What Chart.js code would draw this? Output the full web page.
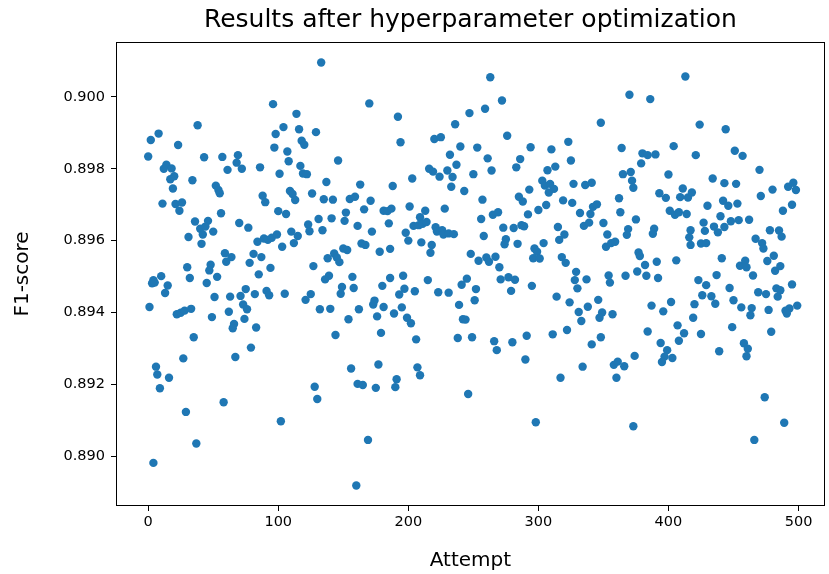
<!DOCTYPE html>
<html>
<head>
<meta charset="utf-8">
<title>Results after hyperparameter optimization</title>
<script src="https://cdn.jsdelivr.net/npm/chart.js@4/dist/chart.umd.min.js"></script>
<style>
  html, body { margin: 0; padding: 0; background: #fff; }
  #wrap { width: 829px; height: 574px; position: relative; }
</style>
</head>
<body>
<div id="wrap"><canvas id="grafica"></canvas></div>
<script>
// tick positions shown on each axis
const xTicks = [0, 100, 200, 300, 400, 500];
const yTicks = [0.890, 0.892, 0.894, 0.896, 0.898, 0.900];

// attempt number of every trial
const attempts = [
  38, 8, 2, 23, 0, 43, 57, 69, 68, 72, 61, 14, 12, 18, 20, 17, 34, 19, 52, 54,
  55, 11, 21, 26, 24, 56, 70, 77, 36, 46, 40, 44, 42, 50, 31, 41, 59, 64, 60, 48,
  47, 53, 30, 32, 10, 4, 78, 3, 5, 15, 45, 13, 1, 22, 25, 28, 33, 51, 63, 71,
  75, 73, 76, 62, 49, 74, 66, 65, 35, 79, 67, 27, 6, 7, 16, 9, 58, 29, 37, 4,
  133, 96, 114, 104, 98, 116, 129, 118, 120, 97, 107, 108, 146, 86, 101, 117, 119, 122, 137, 163,
  88, 90, 109, 111, 113, 126, 135, 142, 155, 159, 166, 100, 106, 123, 124, 131, 134, 141, 152, 151,
  161, 84, 89, 92, 95, 99, 110, 115, 112, 103, 164, 81, 87, 94, 85, 127, 138, 143, 145, 147,
  150, 153, 139, 136, 157, 82, 91, 93, 105, 121, 125, 149, 148, 158, 132, 140, 162, 154, 83, 144,
  156, 161, 165, 128, 130, 102, 160,
  170, 192, 194, 220, 225, 247, 236, 240, 253, 232, 237, 216, 219, 224, 230, 234, 233, 243, 250, 203,
  188, 171, 181, 184, 187, 201, 213, 228, 209, 204, 208, 211, 214, 221, 222, 226, 227, 231, 235, 185,
  172, 198, 200, 210, 218, 217, 167, 178, 186, 248, 254, 186, 196, 215, 245, 180, 197, 193, 205, 223,
  231, 241, 252, 251, 239, 174, 173, 181, 195, 189, 176, 199, 202, 179, 206, 242, 244, 238, 249, 177,
  207, 209, 191, 190, 175, 246, 169,
  263, 272, 259, 276, 294, 310, 323, 325, 261, 286, 283, 264, 307, 313, 327, 336, 341, 303, 305, 309,
  312, 308, 293, 285, 288, 257, 319, 326, 306, 300, 292, 265, 269, 256, 332, 340, 342, 335, 339, 315,
  320, 316, 273, 281, 287, 289, 258, 275, 274, 284, 304, 297, 299, 296, 301, 318, 321, 260, 262, 267,
  270, 271, 277, 282, 328, 337, 329, 279, 295, 330, 314, 324, 338, 331, 333, 266, 268, 280, 291, 311,
  322, 341, 290, 334, 317, 298,
  413, 370, 386, 348, 424, 364, 380, 384, 390, 379, 404, 421, 365, 371, 372, 373, 400, 393, 398, 411,
  409, 415, 418, 430, 362, 345, 363, 375, 401, 405, 408, 414, 350, 353, 352, 356, 359, 369, 368, 389,
  388, 417, 416, 417, 427, 428, 425, 429, 377, 378, 382, 391, 406, 376, 383, 354, 367, 392, 423, 355,
  429, 346, 349, 347, 357, 387, 402, 396, 420, 426, 419, 407, 412, 408, 425, 384, 348, 394, 399, 397,
  395, 403, 374, 358, 361, 366, 360, 373,
  444, 451, 457, 470, 434, 443, 452, 480, 492, 496, 498, 471, 442, 446, 453, 495, 488, 440, 435, 438,
  443, 448, 454, 462, 478, 485, 487, 467, 472, 473, 441, 455, 459, 460, 476, 481, 482, 486, 465, 437,
  433, 436, 447, 450, 456, 464, 463, 469, 475, 483, 486, 484, 495, 477, 490, 493, 491, 499, 449, 479,
  439, 458, 461, 460, 474, 489, 466
];

// F1-score reached by each trial (same order as attempts)
const f1Scores = [
  0.89921, 0.89898, 0.89880, 0.89866, 0.89834, 0.89832, 0.89833, 0.89838, 0.89817, 0.89800,
  0.89797, 0.89811, 0.89800, 0.89801, 0.89779, 0.89771, 0.89768, 0.89745, 0.89753, 0.89741,
  0.89732, 0.89703, 0.89702, 0.89706, 0.89683, 0.89676, 0.89649, 0.89636, 0.89653, 0.89655,
  0.89633, 0.89639, 0.89617, 0.89625, 0.89610, 0.89591, 0.89565, 0.89554, 0.89541, 0.89533,
  0.89517, 0.89499, 0.89526, 0.89496, 0.89501, 0.89490, 0.89538, 0.89481, 0.89483, 0.89475,
  0.89482, 0.89454, 0.89415, 0.89395, 0.89399, 0.89405, 0.89410, 0.89443, 0.89444, 0.89446,
  0.89465, 0.89422, 0.89409, 0.89402, 0.89387, 0.89382, 0.89368, 0.89356, 0.89331, 0.89302,
  0.89276, 0.89272, 0.89249, 0.89227, 0.89218, 0.89189, 0.89150, 0.89123, 0.89035, 0.88981,
  0.90096, 0.89980, 0.89953, 0.89916, 0.89897, 0.89910, 0.89902, 0.89878, 0.89867, 0.89859,
  0.89848, 0.89821, 0.89823, 0.89804, 0.89786, 0.89808, 0.89787, 0.89785, 0.89763, 0.89756,
  0.89725, 0.89707, 0.89738, 0.89730, 0.89713, 0.89731, 0.89715, 0.89714, 0.89716, 0.89722,
  0.89687, 0.89682, 0.89674, 0.89645, 0.89626, 0.89660, 0.89629, 0.89662, 0.89678, 0.89655,
  0.89641, 0.89597, 0.89606, 0.89602, 0.89608, 0.89617, 0.89625, 0.89613, 0.89593, 0.89583,
  0.89592, 0.89563, 0.89554, 0.89524, 0.89506, 0.89529, 0.89551, 0.89564, 0.89553, 0.89540,
  0.89578, 0.89574, 0.89502, 0.89492, 0.89499, 0.89451, 0.89460, 0.89448, 0.89452, 0.89435,
  0.89451, 0.89471, 0.89452, 0.89468, 0.89409, 0.89410, 0.89409, 0.89381, 0.89358, 0.89337,
  0.89244, 0.89201, 0.89198, 0.89193, 0.89159, 0.89097, 0.88918,
  0.89982, 0.89945, 0.89874, 0.89883, 0.89888, 0.89955, 0.89924, 0.89862, 0.89859, 0.89839,
  0.89811, 0.89800, 0.89792, 0.89778, 0.89795, 0.89777, 0.89750, 0.89738, 0.89785, 0.89773,
  0.89752, 0.89711, 0.89683, 0.89682, 0.89689, 0.89695, 0.89683, 0.89689, 0.89665, 0.89641,
  0.89643, 0.89647, 0.89652, 0.89637, 0.89625, 0.89629, 0.89617, 0.89620, 0.89618, 0.89648,
  0.89625, 0.89622, 0.89600, 0.89595, 0.89588, 0.89566, 0.89588, 0.89569, 0.89577, 0.89563,
  0.89544, 0.89496, 0.89502, 0.89490, 0.89494, 0.89474, 0.89466, 0.89450, 0.89459, 0.89456,
  0.89455, 0.89477, 0.89465, 0.89434, 0.89421, 0.89433, 0.89422, 0.89415, 0.89414, 0.89397,
  0.89389, 0.89385, 0.89370, 0.89343, 0.89325, 0.89381, 0.89380, 0.89329, 0.89331, 0.89255,
  0.89247, 0.89225, 0.89214, 0.89192, 0.89190, 0.89173, 0.89045,
  0.90055, 0.89990, 0.89967, 0.89892, 0.89860, 0.89854, 0.89875, 0.89823, 0.89829, 0.89827,
  0.89804, 0.89795, 0.89796, 0.89806, 0.89758, 0.89755, 0.89761, 0.89767, 0.89753, 0.89758,
  0.89744, 0.89734, 0.89742, 0.89722, 0.89709, 0.89714, 0.89712, 0.89705, 0.89699, 0.89685,
  0.89673, 0.89672, 0.89679, 0.89660, 0.89677, 0.89674, 0.89694, 0.89641, 0.89650, 0.89638,
  0.89617, 0.89602, 0.89636, 0.89635, 0.89643, 0.89640, 0.89613, 0.89604, 0.89590, 0.89591,
  0.89593, 0.89578, 0.89569, 0.89551, 0.89550, 0.89554, 0.89538, 0.89553, 0.89541, 0.89555,
  0.89526, 0.89492, 0.89498, 0.89491, 0.89490, 0.89492, 0.89513, 0.89460, 0.89474, 0.89467,
  0.89444, 0.89428, 0.89416, 0.89401, 0.89376, 0.89320, 0.89295, 0.89317, 0.89335, 0.89339,
  0.89351, 0.89311, 0.89269, 0.89249, 0.89218, 0.89094,
  0.90057, 0.90006, 0.89994, 0.89928, 0.89923, 0.89858, 0.89843, 0.89838, 0.89840, 0.89815,
  0.89863, 0.89838, 0.89785, 0.89791, 0.89767, 0.89747, 0.89784, 0.89732, 0.89719, 0.89745,
  0.89721, 0.89720, 0.89734, 0.89697, 0.89718, 0.89701, 0.89679, 0.89659, 0.89683, 0.89672,
  0.89679, 0.89674, 0.89649, 0.89617, 0.89583, 0.89593, 0.89597, 0.89632, 0.89616, 0.89633,
  0.89619, 0.89629, 0.89609, 0.89588, 0.89650, 0.89627, 0.89592, 0.89593, 0.89567, 0.89557,
  0.89532, 0.89541, 0.89545, 0.89514, 0.89502, 0.89503, 0.89502, 0.89496, 0.89490, 0.89483,
  0.89476, 0.89435, 0.89400, 0.89385, 0.89395, 0.89419, 0.89429, 0.89403, 0.89423, 0.89448,
  0.89385, 0.89364, 0.89342, 0.89321, 0.89340, 0.89347, 0.89331, 0.89315, 0.89295, 0.89277,
  0.89262, 0.89273, 0.89279, 0.89254, 0.89263, 0.89250, 0.89218, 0.89083,
  0.89910, 0.89850, 0.89836, 0.89797, 0.89773, 0.89760, 0.89758, 0.89742, 0.89750, 0.89761,
  0.89741, 0.89724, 0.89711, 0.89697, 0.89703, 0.89700, 0.89683, 0.89668, 0.89639, 0.89623,
  0.89638, 0.89654, 0.89657, 0.89658, 0.89629, 0.89628, 0.89611, 0.89605, 0.89593, 0.89578,
  0.89551, 0.89530, 0.89544, 0.89526, 0.89543, 0.89558, 0.89516, 0.89529, 0.89503, 0.89504,
  0.89445, 0.89424, 0.89468, 0.89434, 0.89414, 0.89412, 0.89392, 0.89456, 0.89451, 0.89467,
  0.89462, 0.89444, 0.89478, 0.89407, 0.89405, 0.89411, 0.89397, 0.89419, 0.89359, 0.89346,
  0.89292, 0.89314, 0.89299, 0.89278, 0.89164, 0.89093, 0.89045
];

const puntos = attempts.map((a, i) => ({ x: a, y: f1Scores[i] }));

const fuente = 'DejaVu Sans';

// black box round the plot area, like a matplotlib frame
const marco = {
  id: 'marco',
  afterDraw(chart) {
    const { ctx, chartArea: { left, top, right, bottom } } = chart;
    ctx.save();
    ctx.strokeStyle = '#000';
    ctx.lineWidth = 1;
    ctx.strokeRect(Math.round(left) + 0.5, Math.round(top) + 0.5,
      Math.round(right - left) - 1, Math.round(bottom - top) - 1);
    ctx.restore();
  }
};

const ctx = document.getElementById('grafica').getContext('2d');
new Chart(ctx, {
  type: 'scatter',
  data: {
    datasets: [{
      data: puntos,
      backgroundColor: '#1f77b4',
      pointRadius: 4.2,
      pointBorderWidth: 0,
      pointHoverRadius: 4.2
    }]
  },
  options: {
    responsive: true,
    maintainAspectRatio: false,
    animation: false,
    events: [],
    layout: { padding: { left: 0, right: 2, top: 0, bottom: 0 } },
    scales: {
      x: {
        type: 'linear',
        min: -24.75,
        max: 520.2,
        afterFit: s => { s.height = 68; },
        afterBuildTicks: s => { s.ticks = xTicks.map(v => ({ value: v })); },
        grid: { drawOnChartArea: false, drawTicks: true, tickLength: 5, color: '#000', lineWidth: 1 },
        border: { display: false },
        ticks: {
          color: '#000',
          font: { family: fuente, size: 14.5 },
          padding: 3,
          maxRotation: 0,
          autoSkip: false,
          callback: v => String(v)
        },
        title: {
          display: true,
          text: 'Attempt',
          color: '#000',
          font: { family: fuente, size: 20 },
          padding: { top: 0, bottom: 1.5 }
        }
      },
      y: {
        type: 'linear',
        min: 0.88861,
        max: 0.90153,
        afterFit: s => { s.width = 116; },
        afterBuildTicks: s => { s.ticks = yTicks.map(v => ({ value: v })); },
        grid: { drawOnChartArea: false, drawTicks: true, tickLength: 5, color: '#000', lineWidth: 1 },
        border: { display: false },
        ticks: {
          color: '#000',
          font: { family: fuente, size: 14.5 },
          padding: 6,
          autoSkip: false,
          callback: v => v.toFixed(3)
        },
        title: {
          display: true,
          text: 'F1-score',
          color: '#000',
          font: { family: fuente, size: 20 },
          padding: { top: 10.5, bottom: 0 }
        }
      }
    },
    plugins: {
      legend: { display: false },
      tooltip: { enabled: false },
      title: {
        display: true,
        fullSize: false,
        text: 'Results after hyperparameter optimization',
        color: '#000',
        font: { family: fuente, size: 25, weight: 'normal' },
        padding: { top: 5, bottom: 7 }
      }
    }
  },
  plugins: [marco]
});
</script>
</body>
</html>
